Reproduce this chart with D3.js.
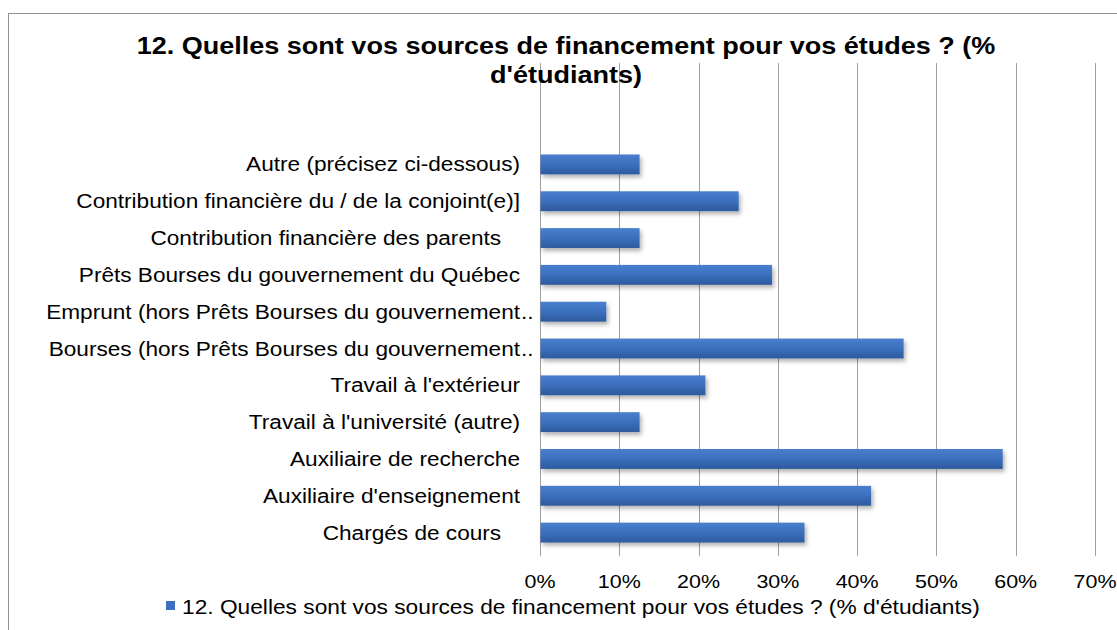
<!DOCTYPE html>
<html>
<head>
<meta charset="utf-8">
<script src="https://cdn.jsdelivr.net/npm/d3@7"></script>
<style>
  body { margin: 0; background: #fff; }
  text { font-family: "Liberation Sans", Arial, sans-serif; fill: #000; white-space: pre; }
</style>
</head>
<body>
<div id="chart"></div>
<script>
// categories top to bottom, as in the picture
const categories = [
    "Autre (précisez ci-dessous)",
    "Contribution financière du / de la conjoint(e)]",
    "Contribution financière des parents   ",
    "Prêts Bourses du gouvernement du Québec",
    "Emprunt (hors Prêts Bourses du gouvernement..",
    "Bourses (hors Prêts Bourses du gouvernement..",
    "Travail à l'extérieur",
    "Travail à l'université (autre)",
    "Auxiliaire de recherche",
    "Auxiliaire d'enseignement",
    "Chargés de cours   "
];
const values = [0.125, 0.25, 0.125, 0.292, 0.083, 0.458, 0.208, 0.125, 0.583, 0.417, 0.333];
const ticks = [0, 0.1, 0.2, 0.3, 0.4, 0.5, 0.6, 0.7];
const titleLines = ["12. Quelles sont vos sources de financement pour vos études ? (%", "d'étudiants)"];
const seriesName = "12. Quelles sont vos sources de financement pour vos études ? (% d'étudiants)";

const width = 1117, height = 630;
const SX = 1.16; // picture is a little stretched sideways

const svg = d3.select("#chart").append("svg")
    .attr("width", width)
    .attr("height", height);

const defs = svg.append("defs");
const grad = defs.append("linearGradient")
    .attr("id", "barGrad")
    .attr("x1", 0).attr("y1", 0).attr("x2", 0).attr("y2", 1);
grad.append("stop").attr("offset", "0%").attr("stop-color", "#4a7fcd");
grad.append("stop").attr("offset", "45%").attr("stop-color", "#3d71bf");
grad.append("stop").attr("offset", "100%").attr("stop-color", "#2d5a9e");
defs.append("filter").attr("id", "shadow")
    .attr("x", "-5%").attr("y", "-30%").attr("width", "115%").attr("height", "180%")
    .append("feDropShadow")
    .attr("dx", 2).attr("dy", 3).attr("stdDeviation", 2)
    .attr("flood-color", "#000").attr("flood-opacity", 0.3);

svg.append("rect")
    .attr("width", width).attr("height", height).attr("fill", "#fff");

// chart frame (right and bottom are cut off in the picture)
svg.append("rect")
    .attr("x", 8.5).attr("y", 13.5)
    .attr("width", width + 10).attr("height", height + 10)
    .attr("fill", "none").attr("stroke", "#8f8f8f");

const plotTop = 63, plotBottom = 551;
const x = d3.scaleLinear().domain([0, 0.7]).range([540, 1095]);
const y = d3.scaleBand().domain(categories).range([146, plotBottom])
    .paddingInner(0.46).paddingOuter(0.23);

function stretched(sel, px, py) {
    return sel.attr("transform", `translate(${px},${py}) scale(${SX},1)`);
}

// gridlines
svg.append("g").selectAll("line")
    .data(ticks)
    .enter().append("line")
    .attr("x1", d => Math.round(x(d)) + 0.5)
    .attr("x2", d => Math.round(x(d)) + 0.5)
    .attr("y1", plotTop)
    .attr("y2", plotBottom + 5)
    .attr("stroke", "#a0a0a0")
    .attr("stroke-width", 1);

// bars
svg.append("g").selectAll("rect")
    .data(values)
    .enter().append("rect")
    .attr("x", x(0) + 0.5)
    .attr("y", (d, i) => y(categories[i]))
    .attr("width", d => x(d) - x(0))
    .attr("height", y.bandwidth())
    .attr("fill", "url(#barGrad)")
    .attr("filter", "url(#shadow)");

// category labels
const labelEnd = 520;
const labels = svg.append("g").selectAll("g")
    .data(categories)
    .enter().append("g")
    .attr("transform", d => `translate(0,${y(d) + y.bandwidth() / 2 + 7})`);
labels.each(function (d) {
    const g = d3.select(this);
    const cut = d.endsWith("..");
    const main = cut ? d.slice(0, -2) : d;
    stretched(g.append("text"), labelEnd, 0)
        .attr("text-anchor", "end")
        .style("font-size", "19.5px")
        .text(main);
    if (cut) {
        stretched(g.append("text"), labelEnd + 1, 0)
            .style("font-size", "19.5px")
            .text("..");
    }
});

// tick labels
svg.append("g").selectAll("text")
    .data(ticks)
    .enter().append("text")
    .each(function (d) { stretched(d3.select(this), x(d), 588); })
    .attr("text-anchor", "middle")
    .style("font-size", "18.5px")
    .text(d => d3.format(".0%")(d));

// title
svg.append("g").selectAll("text")
    .data(titleLines)
    .enter().append("text")
    .each(function (d, i) { stretched(d3.select(this), 566, 54 + i * 29); })
    .attr("text-anchor", "middle")
    .style("font-size", "23.3px")
    .style("font-weight", "bold")
    .text(d => d);

// legend
const legend = svg.append("g");
legend.append("rect")
    .attr("x", 166).attr("y", 601)
    .attr("width", 9).attr("height", 9)
    .attr("fill", "#3d71bf");
stretched(legend.append("text"), 182, 614)
    .style("font-size", "19.6px")
    .text(seriesName);
</script>
</body>
</html>
